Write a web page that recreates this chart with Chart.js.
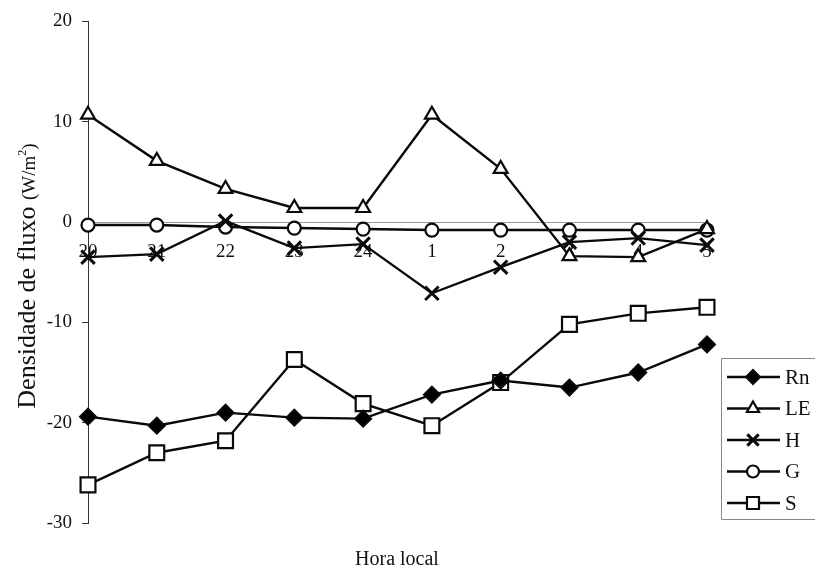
<!DOCTYPE html>
<html>
<head>
<meta charset="utf-8">
<script src="https://cdn.jsdelivr.net/npm/chart.js@4/dist/chart.umd.min.js"></script>
<style>
  html, body { margin: 0; padding: 0; background: #fff; }
  #wrap { width: 815px; height: 575px; }
</style>
</head>
<body>
<div id="wrap"><canvas id="c" width="815" height="575"></canvas></div>
<script>
const categories = ['20', '21', '22', '23', '24', '1', '2', '3', '4', '5'];
const seriesNames = ['Rn', 'LE', 'H', 'G', 'S'];
const Rn = [-19.4, -20.3, -19.0, -19.5, -19.6, -17.2, -15.8, -16.5, -15.0, -12.2];
const LE = [10.7, 6.1, 3.3, 1.4, 1.4, 10.7, 5.3, -3.4, -3.5, -0.7];
const H  = [-3.5, -3.2, 0.1, -2.6, -2.2, -7.1, -4.5, -2.0, -1.6, -2.3];
const G  = [-0.3, -0.3, -0.5, -0.6, -0.7, -0.8, -0.8, -0.8, -0.8, -0.8];
const S  = [-26.2, -23.0, -21.8, -13.7, -18.1, -20.3, -16.0, -10.2, -9.1, -8.5];
const yTicks = [20, 10, 0, -10, -20, -30];
const yTitle = 'Densidade de fluxo';
const yUnit = '(W/m';
const xTitle = 'Hora local';

const serif = "'Liberation Serif', 'DejaVu Serif', serif";

const styles = [
  { pointStyle: 'rectRot', radius: 8, fill: '#000', bw: 2 },
  { pointStyle: 'triangle', radius: 8, fill: '#fff', bw: 2.2 },
  { pointStyle: 'crossRot', radius: 9.5, fill: '#fff', bw: 3 },
  { pointStyle: 'circle', radius: 6.5, fill: '#fff', bw: 2.2 },
  { pointStyle: 'rect', radius: 10.5, fill: '#fff', bw: 2.2 }
];
const values = [Rn, LE, H, G, S];

const datasets = seriesNames.map((name, i) => ({
  label: name,
  data: values[i],
  borderColor: '#0a0a0a',
  borderWidth: 2.4,
  pointStyle: styles[i].pointStyle,
  pointRadius: styles[i].radius,
  pointHoverRadius: styles[i].radius,
  pointBackgroundColor: styles[i].fill,
  pointBorderColor: '#0a0a0a',
  pointBorderWidth: styles[i].bw,
  fill: false,
  tension: 0
}));

function drawMarker(ctx, style, r, x, y, fillColor, bw) {
  ctx.save();
  ctx.lineWidth = bw;
  ctx.strokeStyle = '#0a0a0a';
  ctx.fillStyle = fillColor;
  ctx.beginPath();
  if (style === 'rectRot') {
    ctx.moveTo(x - r, y); ctx.lineTo(x, y - r); ctx.lineTo(x + r, y); ctx.lineTo(x, y + r); ctx.closePath();
    ctx.fill(); ctx.stroke();
  } else if (style === 'triangle') {
    const w = r * Math.sqrt(3) / 2;
    ctx.moveTo(x, y - r); ctx.lineTo(x + w, y + r / 2); ctx.lineTo(x - w, y + r / 2); ctx.closePath();
    ctx.fill(); ctx.stroke();
  } else if (style === 'crossRot') {
    const d = r * Math.SQRT1_2;
    ctx.moveTo(x - d, y - d); ctx.lineTo(x + d, y + d);
    ctx.moveTo(x + d, y - d); ctx.lineTo(x - d, y + d);
    ctx.stroke();
  } else if (style === 'circle') {
    ctx.arc(x, y, r, 0, Math.PI * 2);
    ctx.fill(); ctx.stroke();
  } else if (style === 'rect') {
    const s = r * Math.SQRT1_2;
    ctx.rect(x - s, y - s, 2 * s, 2 * s);
    ctx.fill(); ctx.stroke();
  }
  ctx.restore();
}

const decorPlugin = {
  id: 'decor',
  afterDraw(chart) {
    const ctx = chart.ctx;
    ctx.save();
    // Y title (mixed sizes)
    ctx.translate(35, 276);
    ctx.rotate(-Math.PI / 2);
    ctx.fillStyle = '#111';
    ctx.textBaseline = 'alphabetic';
    const f1 = '26px ' + serif, f2 = '19px ' + serif, f3 = '12px ' + serif;
    ctx.font = f1; const w1 = ctx.measureText(yTitle + ' ').width;
    ctx.font = f2; const w2 = ctx.measureText(yUnit).width;
    ctx.font = f3; const w3 = ctx.measureText('2').width;
    ctx.font = f2; const w4 = ctx.measureText(')').width;
    let x0 = -(w1 + w2 + w3 + w4) / 2;
    ctx.textAlign = 'left';
    ctx.font = f1; ctx.fillText(yTitle + ' ', x0, 0); x0 += w1;
    ctx.font = f2; ctx.fillText(yUnit, x0, 0); x0 += w2;
    ctx.font = f3; ctx.fillText('2', x0, -9); x0 += w3;
    ctx.font = f2; ctx.fillText(')', x0, 0);
    ctx.restore();

    // X title
    ctx.save();
    ctx.fillStyle = '#111';
    ctx.font = '20px ' + serif;
    ctx.textAlign = 'center';
    ctx.textBaseline = 'middle';
    ctx.fillText(xTitle, 397, 560);
    ctx.restore();

    // Legend
    ctx.save();
    ctx.strokeStyle = '#888';
    ctx.lineWidth = 1;
    ctx.beginPath();
    ctx.moveTo(830, 358.5); ctx.lineTo(721.5, 358.5); ctx.lineTo(721.5, 519.5); ctx.lineTo(830, 519.5);
    ctx.stroke();
    const rows = [377, 408.5, 440, 471.5, 503];
    const legendR = [7, 7, 8, 6, 8.5];
    seriesNames.forEach((name, i) => {
      const y = rows[i];
      ctx.strokeStyle = '#0a0a0a';
      ctx.lineWidth = 2.4;
      ctx.beginPath(); ctx.moveTo(727, y); ctx.lineTo(780, y); ctx.stroke();
      drawMarker(ctx, styles[i].pointStyle, legendR[i], 753, y, styles[i].fill, styles[i].bw);
      ctx.fillStyle = '#111';
      ctx.font = '21px ' + serif;
      ctx.textAlign = 'left';
      ctx.textBaseline = 'middle';
      ctx.fillText(name, 785, y + 1);
    });
    ctx.restore();
  }
};

new Chart(document.getElementById('c'), {
  type: 'line',
  data: { labels: categories, datasets },
  plugins: [decorPlugin],
  options: {
    responsive: false,
    animation: false,
    devicePixelRatio: 1,
    layout: { padding: { left: 0, top: 19, right: 108, bottom: 52 } },
    plugins: { legend: { display: false }, tooltip: { enabled: false } },
    scales: {
      x: {
        type: 'category',
        offset: false,
        position: { y: 0 },
        grid: { display: true, drawOnChartArea: false, tickLength: 4, color: '#aaa', lineWidth: 1 },
        border: { display: true, color: '#999', width: 1, dash: [6, 3] },
        ticks: {
          color: '#111',
          font: { family: serif, size: 19 },
          padding: 15,
          maxRotation: 0,
          autoSkip: false
        }
      },
      y: {
        min: -30,
        max: 20,
        afterFit(scale) { scale.width = 88; },
        afterBuildTicks(scale) { scale.ticks = yTicks.map(v => ({ value: v })); },
        grid: { display: true, drawOnChartArea: false, tickLength: 6, color: '#333', lineWidth: 1 },
        border: { display: true, color: '#333', width: 1 },
        ticks: {
          color: '#111',
          font: { family: serif, size: 19 },
          padding: 10,
          callback: v => String(v)
        }
      }
    }
  }
});
</script>
</body>
</html>
